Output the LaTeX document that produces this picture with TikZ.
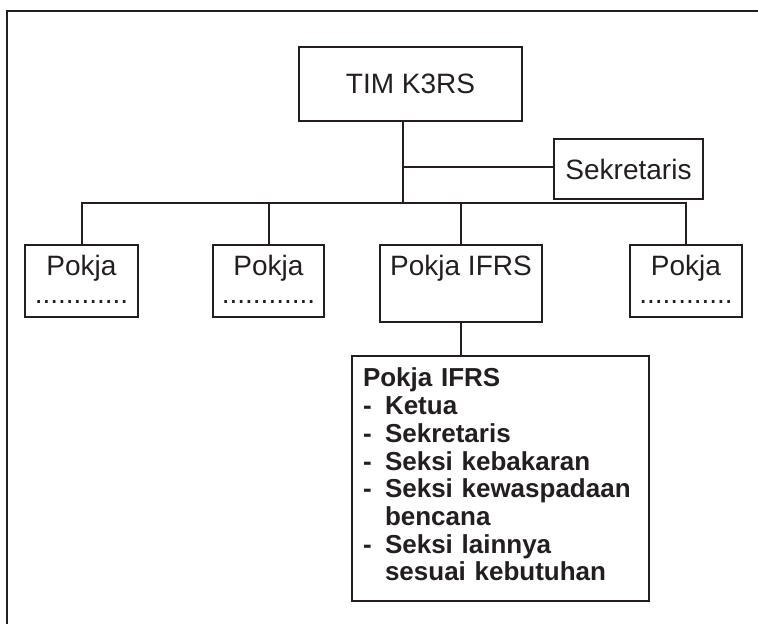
\documentclass[tikz,border=0pt]{standalone}
\usepackage{fontspec}
\setmainfont{Liberation Sans}
\definecolor{ink}{RGB}{35,31,32}
\begin{document}
\begin{tikzpicture}[
    x=1pt,y=-1pt,
    line width=2pt,
    ink,
    box/.style={draw,inner sep=0pt,font=\fontsize{28}{28}\selectfont,align=center},
    pokja/.style={box,minimum height=72pt},
    detail/.style={draw,inner sep=0pt,font=\fontsize{26}{27.7}\selectfont\bfseries,align=left,text width=275pt}
    ]
	\useasboundingbox (0,0) rectangle (758,624);
	\draw (7,630) -- (7,11) -- (765,11);
	\node [box,minimum width=223pt,minimum height=74pt] (tim) at (410.5,84) {TIM K3RS};
	\node [box,minimum width=149pt,minimum height=60pt] (sek) at (628.5,169) {Sekretaris};
	\node [pokja,minimum width=113pt] (p1) at (81.5,281) {Pokja\\............\rule[-4pt]{0pt}{4pt}};
	\node [pokja,minimum width=111pt] (p2) at (268.5,281) {Pokja\\............\rule[-4pt]{0pt}{4pt}};
	\node [box,minimum width=162pt,minimum height=77pt] (ifrs) at (461,283.5) {Pokja IFRS\rule[-37pt]{0pt}{37pt}};
	\node [pokja,minimum width=112pt] (p4) at (686,281) {Pokja\\............\rule[-4pt]{0pt}{4pt}};
	\node [detail,minimum width=297pt,minimum height=245pt] (ifrsdetail) at (500.5,478.5) {Pokja IFRS\\
		\makebox[22pt][l]{-}Ketua\\
		\makebox[22pt][l]{-}Sekretaris\\
		\makebox[22pt][l]{-}Seksi kebakaran\\
		\makebox[22pt][l]{-}Seksi kewaspadaan\\
		\hspace*{22pt}bencana\\
		\makebox[22pt][l]{-}Seksi lainnya\\
		\hspace*{22pt}sesuai kebutuhan\rule[-8pt]{0pt}{8pt}};
	\coordinate (sekjoin) at (403,167);
	\coordinate (bus) at (403,203);
	\draw (tim.south -| sekjoin) -- (bus);
	\draw (sekjoin) -- (sekjoin -| sek.west);
	\draw (p1.north) -- (p1.north |- bus) -- (p4.north |- bus) -- (p4.north);
	\draw (p2.north) -- (p2.north |- bus);
	\draw (ifrs.north) -- (ifrs.north |- bus);
	\draw (ifrs.south) -- (ifrs.south |- ifrsdetail.north);
\end{tikzpicture}
\end{document}
